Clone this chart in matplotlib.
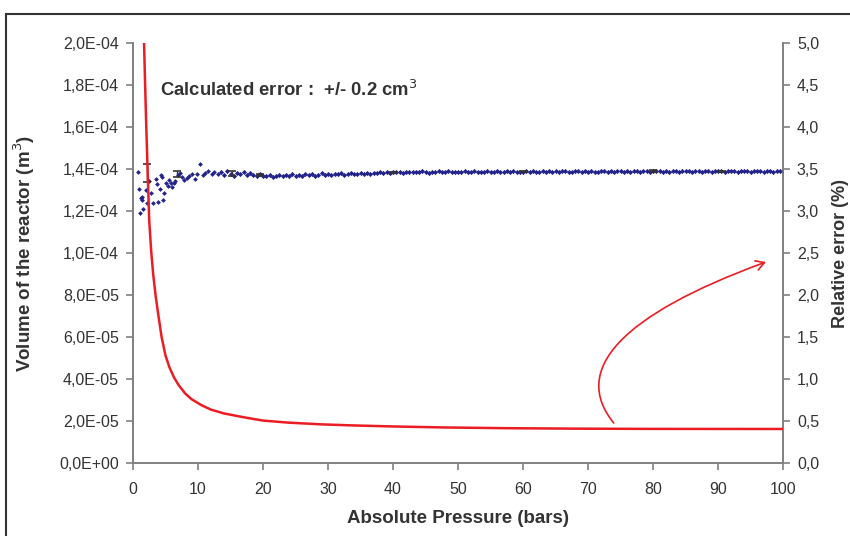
import numpy as np
import matplotlib
matplotlib.use("Agg")
import matplotlib.pyplot as plt
from matplotlib.patches import FancyArrowPatch
from matplotlib.path import Path
from matplotlib.lines import Line2D
from matplotlib.ticker import FuncFormatter

plt.rcParams['font.family'] = ['Liberation Sans', 'DejaVu Sans']

# measured volume (1e-4 m3) vs pressure, scattered part at low pressure
low_p = [0.82, 0.92, 1.08, 1.23, 1.34, 1.43, 1.59, 1.95, 2.10, 2.47, 2.77, 3.13,
         3.49, 3.65, 3.90, 4.16, 4.31, 4.52, 4.67, 4.82, 5.03, 5.34, 5.55, 5.86,
         5.96, 6.37, 6.47, 6.90, 7.24, 7.50, 7.91, 8.27, 8.63, 9.04, 9.55, 9.81,
         10.3, 10.7, 11.1, 11.6, 12.1, 12.5, 13.0]
low_v = [1.387, 1.303, 1.189, 1.263, 1.268, 1.252, 1.210, 1.300, 1.240, 1.344, 1.287, 1.240,
         1.351, 1.329, 1.244, 1.303, 1.370, 1.364, 1.252, 1.284, 1.332, 1.319, 1.348, 1.335,
         1.313, 1.335, 1.344, 1.370, 1.379, 1.360, 1.348, 1.356, 1.367, 1.376, 1.351, 1.376,
         1.424, 1.371, 1.382, 1.392, 1.376, 1.387, 1.376]

# steady band, one reading every 0.5 bar from 13.5 to 100 bar
band_p = np.arange(13.5, 100.01, 0.5)
band_v = [1.384, 1.372, 1.389, 1.378, 1.368, 1.381, 1.375, 1.386, 1.370, 1.379, 1.372, 1.366, 1.374, 1.369,
          1.366, 1.371, 1.364, 1.368, 1.373, 1.365, 1.370, 1.367, 1.375, 1.369, 1.372, 1.366, 1.374, 1.371, 1.378, 1.369, 1.373, 1.380, 1.371, 1.376,
          1.372, 1.377, 1.374, 1.379, 1.373, 1.376, 1.381, 1.375, 1.378, 1.383, 1.377, 1.380, 1.376, 1.382, 1.379, 1.384, 1.380, 1.385, 1.382, 1.386,
          1.384, 1.387, 1.383, 1.386, 1.388, 1.384, 1.387, 1.385, 1.389, 1.386, 1.383, 1.388, 1.386, 1.390, 1.385, 1.387, 1.389, 1.386, 1.384, 1.388,
          1.386, 1.389, 1.387, 1.385, 1.390, 1.387, 1.388, 1.386, 1.391, 1.387, 1.385, 1.389, 1.388, 1.386, 1.390, 1.387, 1.389, 1.385, 1.388, 1.387,
          1.389, 1.386, 1.390, 1.388, 1.387, 1.391, 1.386, 1.389, 1.388, 1.390, 1.387, 1.389, 1.391, 1.388, 1.386, 1.390, 1.389, 1.387, 1.391, 1.388,
          1.390, 1.388, 1.386, 1.391, 1.389, 1.387, 1.390, 1.388, 1.392, 1.389, 1.387, 1.390, 1.388, 1.391, 1.389, 1.387, 1.390, 1.392, 1.388, 1.390,
          1.389, 1.391, 1.387, 1.390, 1.388, 1.392, 1.389, 1.387, 1.391, 1.389, 1.390, 1.388, 1.392, 1.389, 1.387, 1.391, 1.390, 1.388, 1.391, 1.389,
          1.390, 1.388, 1.391, 1.389, 1.392, 1.388, 1.390, 1.389, 1.391, 1.387, 1.390, 1.392, 1.389, 1.388, 1.391, 1.390, 1.388, 1.391, 1.389, 1.390]

# error bars on a few readings
bar_p = [2.1, 6.7, 15.2, 19.6, 40.0, 60.0, 80.0, 90.4]
bar_v = [1.381, 1.376, 1.380, 1.372, 1.385, 1.388, 1.391, 1.389]
bar_e = [0.043, 0.016, 0.012, 0.004, 0.003, 0.003, 0.003, 0.003]

# relative error (%) curve
err_p = [1.62, 1.70, 1.85, 2.0, 2.2, 2.5, 2.8, 3.1, 3.5, 3.9, 4.4, 5.0, 5.6, 6.3, 7.0,
         8.0, 9.0, 10.5, 12.0, 14.0, 17.0, 20.0, 24.0, 29.0, 34.0, 40.0, 48.0, 58.0,
         68.0, 80.0, 100.0]
err_v = [5.3, 5.0, 4.55, 4.12, 3.6, 2.88, 2.52, 2.25, 1.98, 1.76, 1.50, 1.28, 1.14, 1.02, 0.93,
         0.83, 0.76, 0.69, 0.635, 0.59, 0.545, 0.505, 0.48, 0.46, 0.447, 0.435, 0.423, 0.414,
         0.409, 0.406, 0.405]

blue = '#23238c'
red = '#ec1c24'
grey = '#808080'
txt = '#333333'

fig = plt.figure(figsize=(8.5, 5.36), dpi=100)
ax = fig.add_axes([133 / 850, 1 - 463 / 536, (783 - 133) / 850, (463 - 43) / 536])
ax2 = ax.twinx()

ax.scatter(low_p, np.array(low_v) * 1e-4, s=6, color=blue, marker='D', linewidths=0, zorder=3)
ax.scatter(band_p, np.array(band_v) * 1e-4, s=7, color=blue, marker='D', linewidths=0, zorder=3)
ax.errorbar(bar_p, np.array(bar_v) * 1e-4, yerr=np.array(bar_e) * 1e-4, fmt='none',
            ecolor='#333333', elinewidth=1, capsize=3, capthick=1.2, zorder=4)

ax2.plot(err_p, err_v, color=red, lw=1.8, zorder=5, solid_joinstyle='round')

ax.set_xlim(0, 100)
ax.set_ylim(0, 2.0e-4)
ax2.set_ylim(0, 5.0)
ax.set_xticks(np.arange(0, 101, 10))
ax.set_yticks(np.arange(0, 2.01e-4, 0.2e-4))
ax2.set_yticks(np.arange(0, 5.01, 0.5))


def sci_comma(v, pos):
    s = '%.1E' % v
    mant, ex = s.split('E')
    return mant.replace('.', ',') + 'E' + ex[0] + ex[1:].zfill(2)


ax.yaxis.set_major_formatter(FuncFormatter(sci_comma))
ax2.yaxis.set_major_formatter(FuncFormatter(lambda v, p: ('%.1f' % v).replace('.', ',')))

for a in (ax, ax2):
    a.spines['top'].set_visible(False)
    for s in ('left', 'bottom', 'right'):
        a.spines[s].set_color(grey)
        a.spines[s].set_linewidth(1.2)
    a.tick_params(colors=grey, labelcolor=txt, labelsize=11.5, length=5, width=1.2, direction='out')
ax.tick_params(axis='x', pad=9)
ax.tick_params(axis='y', pad=5)
ax2.tick_params(axis='y', pad=5)

ax.set_xlabel('Absolute Pressure (bars)', fontsize=13.5, fontweight='bold', color=txt, labelpad=9)
ax.set_ylabel('Volume of the reactor (m$^3$)', fontsize=13.5, fontweight='bold', color=txt, labelpad=16)
ax2.set_ylabel('Relative error (%)', fontsize=13, fontweight='bold', color=txt, labelpad=9)

fig.text(160 / 850, 1 - 90 / 536, 'Calculated error :  +/- 0.2 cm$^3$', fontsize=13.3,
         fontweight='bold', color=txt, va='center', ha='left')

# curved arrow pointing to the relative error axis
verts = [(73.96, 0.476), (67.33, 1.107), (75.04, 1.762), (97.38, 2.393)]
path = Path(verts, [Path.MOVETO, Path.CURVE4, Path.CURVE4, Path.CURVE4])
arrow = FancyArrowPatch(path=path, arrowstyle='->,head_length=6,head_width=3.5',
                        color=red, lw=1.2, transform=ax2.transData, zorder=6)
ax2.add_patch(arrow)

# outer frame of the original picture
fig.add_artist(Line2D([6 / 850, 6 / 850], [0, 1 - 14 / 536], color='#333333', lw=1.5))
fig.add_artist(Line2D([6 / 850, 1], [1 - 14 / 536, 1 - 14 / 536], color='#333333', lw=1.5))

fig.savefig('out.png', dpi=100)
